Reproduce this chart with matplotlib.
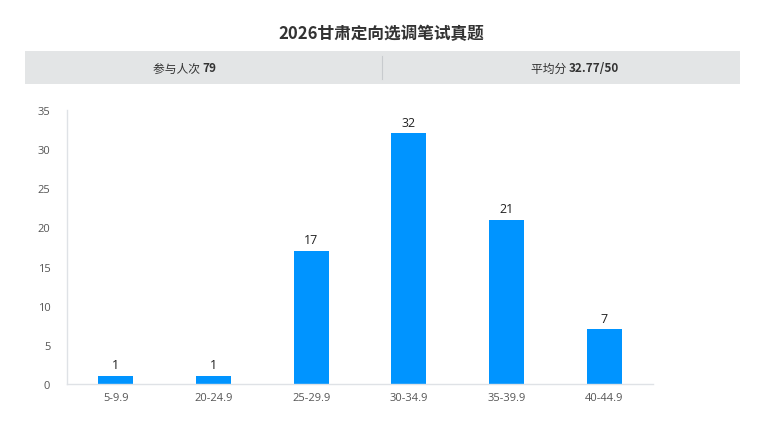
import matplotlib
matplotlib.use("Agg")
import matplotlib.pyplot as plt
from matplotlib.patches import Rectangle

plt.rcParams['font.family'] = ['Noto Sans CJK SC', 'DejaVu Sans']

categories = ["5-9.9", "20-24.9", "25-29.9", "30-34.9", "35-39.9", "40-44.9"]
counts = [1, 1, 17, 32, 21, 7]
title = "2026甘肃定向选调笔试真题"
participants = "79"
average = "32.77/50"

BAR = "#0094ff"
GRID = "#dfe2e6"
TEXT = "#333333"
NUM_FONT = ["Open Sans", "DejaVu Sans"]

fig = plt.figure(figsize=(7.63, 4.31), dpi=100, facecolor="white")

# title and summary band
fig.text(0.5, 0.922, title, ha="center", va="center", fontsize=12,
         fontweight="bold", color=TEXT)
fig.patches.append(Rectangle((25 / 763, 1 - 85 / 431), 715 / 763, 33 / 431,
                             transform=fig.transFigure, facecolor="#e3e5e6",
                             edgecolor="none", zorder=0))
fig.add_artist(plt.Line2D([382 / 763, 382 / 763], [1 - 80 / 431, 1 - 57 / 431],
                          transform=fig.transFigure, color="#c8cbce", lw=0.8))
y_band = 1 - 69 / 431
fig.text(0.265, y_band, "参与人次 ", ha="right", va="center", fontsize=8.5, color=TEXT)
fig.text(0.265, y_band, participants, ha="left", va="center", fontsize=8.5,
         fontweight="bold", color=TEXT)
fig.text(0.745, y_band, "平均分 ", ha="right", va="center", fontsize=8.5, color=TEXT)
fig.text(0.745, y_band, average, ha="left", va="center", fontsize=8.5,
         fontweight="bold", color=TEXT)

ax = fig.add_axes([67 / 763, 1 - 385 / 431, 586 / 763, 274 / 431])
x = range(len(categories))
bars = ax.bar(x, counts, width=0.36, color=BAR)
for rect, v in zip(bars, counts):
    ax.text(rect.get_x() + rect.get_width() / 2, v + 0.6, str(v), ha="center",
            va="bottom", fontsize=9, color="#222222", family=NUM_FONT)

ax.set_xlim(-0.5, len(categories) - 0.5)
ax.set_ylim(0, 35)
ax.set_yticks(range(0, 36, 5))
ax.set_xticks(list(x))
ax.set_xticklabels(categories)
ax.tick_params(length=0, labelsize=8, labelcolor="#555555")
ax.tick_params(axis="y", pad=12)
ax.tick_params(axis="x", pad=6)
for lab in ax.get_xticklabels() + ax.get_yticklabels():
    lab.set_family(NUM_FONT)
for side in ("top", "right"):
    ax.spines[side].set_visible(False)
for side in ("left", "bottom"):
    ax.spines[side].set_color(GRID)
    ax.spines[side].set_linewidth(1)

fig.savefig("out.png", dpi=100, facecolor="white")
